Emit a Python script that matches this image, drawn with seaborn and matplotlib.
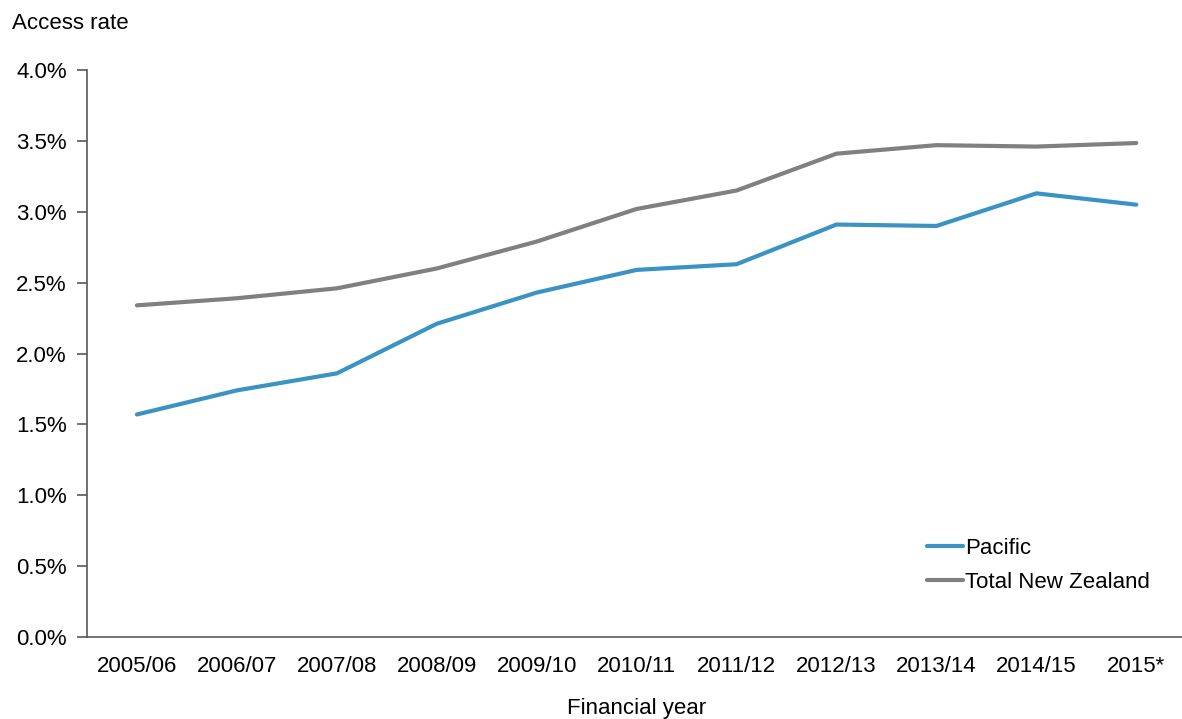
import numpy as np
import pandas as pd
import seaborn as sns
import matplotlib.pyplot as plt
from matplotlib.ticker import FuncFormatter

years = ['2005/06', '2006/07', '2007/08', '2008/09', '2009/10', '2010/11',
         '2011/12', '2012/13', '2013/14', '2014/15', '2015*']
pacific = [1.57, 1.74, 1.86, 2.21, 2.43, 2.59, 2.63, 2.91, 2.90, 3.13, 3.05]
total_nz = [2.34, 2.39, 2.46, 2.60, 2.79, 3.02, 3.15, 3.41, 3.47, 3.46, 3.485]

df = pd.DataFrame({'year': years * 2,
                   'rate': pacific + total_nz,
                   'group': ['Pacific'] * len(years) + ['Total New Zealand'] * len(years)})
df['x'] = list(range(len(years))) * 2

sns.set_style('white')
plt.rcParams['font.family'] = ['Liberation Sans', 'DejaVu Sans']
plt.rcParams['text.color'] = 'black'

fig = plt.figure(figsize=(11.82, 7.19), dpi=100)
ax = fig.add_axes([0.0736, 0.114, 0.93, 0.7886])

sns.lineplot(data=df, x='x', y='rate', hue='group',
             palette={'Pacific': '#3a93c3', 'Total New Zealand': '#808080'},
             linewidth=3, ax=ax)

ax.set_xlim(-0.5, len(years) - 0.5)
ax.set_ylim(0, 4.0)
ax.set_yticks(np.arange(0, 4.01, 0.5))
ax.yaxis.set_major_formatter(FuncFormatter(lambda v, p: f'{v:.1f}%'))
ax.set_xticks(range(len(years)))
ax.set_xticklabels(years)
ax.tick_params(axis='y', which='both', left=True, length=7, width=1.2, color='#595959',
               labelsize=16, pad=7.5, labelcolor='black')
ax.tick_params(axis='x', bottom=False, labelsize=16, pad=10, labelcolor='black')
for s in ['top', 'right']:
    ax.spines[s].set_visible(False)
for s in ['left', 'bottom']:
    ax.spines[s].set_color('#595959')
    ax.spines[s].set_linewidth(1.2)

ax.set_xlabel('Financial year', fontsize=16, labelpad=15, color='black')
ax.set_ylabel('')
fig.text(0.010, 0.968, 'Access rate', fontsize=16, ha='left', va='center', color='black')

leg = ax.legend(loc='lower right', bbox_to_anchor=(0.985, 0.042), frameon=False,
                fontsize=16, handlelength=1.6, handletextpad=0.1, labelspacing=0.6)
for t in leg.get_texts():
    t.set_color('black')

fig.savefig('out.png', dpi=100)
